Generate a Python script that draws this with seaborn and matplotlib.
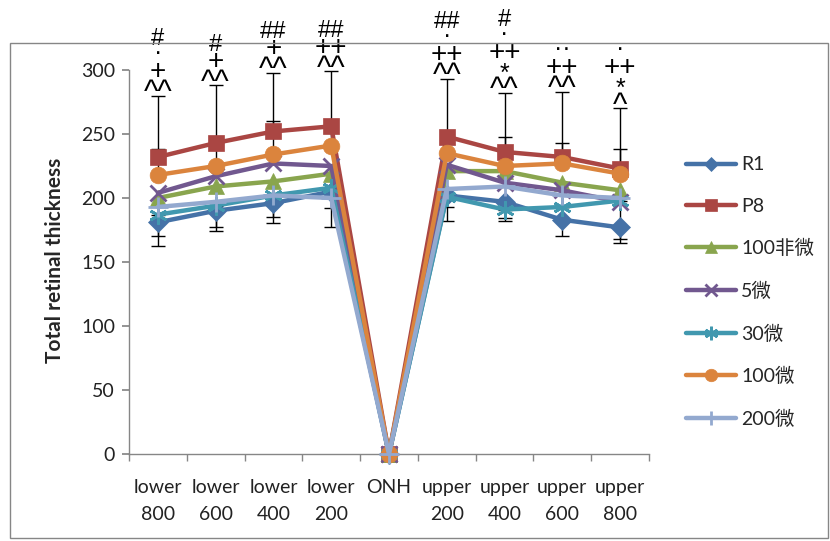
import matplotlib
matplotlib.use("Agg")
import matplotlib.pyplot as plt
import matplotlib.patches as patches
import numpy as np
import pandas as pd
import seaborn as sns

# categories along the retina
labels = ["lower\n800", "lower\n600", "lower\n400", "lower\n200", "ONH",
          "upper\n200", "upper\n400", "upper\n600", "upper\n800"]

# mean thickness per group
r1 = [181, 190, 196, 205, 0, 202, 197, 183, 177]
p8 = [232, 243, 252, 256, 0, 248, 236, 232, 223]
g100_non = [200, 209, 213, 219, 0, 221, 221, 212, 206]
g5 = [204, 217, 227, 225, 0, 226, 212, 206, 197]
g30 = [187, 194, 202, 208, 0, 201, 191, 193, 198]
g100 = [218, 225, 234, 241, 0, 235, 225, 227, 219]
g200 = [193, 197, 202, 200, 0, 207, 209, 202, 200]

# error bars (one sided)
p8_err_up = [48, 45, 46, 43, 0, 45, 46, 51, 47]
g100_err_up = [20, 18, 26, 15, 0, 14, 23, 16, 19]
r1_err_down = [18.5, 16, 15.5, 28, 0, 20, 15, 13, 12]
g30_err_down = [17, 17, 17, 16, 0, 8, 7, 0, 30]

# significance marks above each category (top line first)
marks = [["#", "·", "+", "^^"],
         ["#", "+", "^^"],
         ["##", "+", "^^"],
         ["##", "++", "^^"],
         [],
         ["##", "·", "++", "^^"],
         ["#", "·", "++", "*", "^^"],
         ["··", "++", "^^"],
         ["·", "++", "*", "^"]]

series = {"R1": r1, "P8": p8, "100非微": g100_non, "5微": g5,
          "30微": g30, "100微": g100, "200微": g200}
colors = ["#4572A7", "#AA4643", "#89A54E", "#71588F", "#4198AF", "#DB843D", "#93A9CF"]
markers = ["D", "s", "^", "x", (6, 2, 0), "o", "+"]
msizes = [10, 12, 11, 12, 13, 12, 14]

# font size and ink centre (in em above baseline) for each mark glyph
glyph_style = {"#": (17, 0.36), "+": (20, 0.35), "^": (22, 0.50),
               "*": (18, 0.57), "·": (18, 0.29)}

sns.set_theme(style="white")
plt.rcParams["font.family"] = ["Lato", "Noto Sans CJK SC", "DejaVu Sans"]

fig = plt.figure(figsize=(8.3, 5.41), dpi=100)
ax = fig.add_axes([129 / 830, 87 / 541, 520 / 830, 384 / 541])

x = np.arange(len(labels))

# error bars behind the lines
err_kw = dict(fmt="none", ecolor="black", elinewidth=1, capsize=5, capthick=1, zorder=1)
ax.errorbar(x, p8, yerr=[np.zeros(9), p8_err_up], **err_kw)
ax.errorbar(x, g100, yerr=[np.zeros(9), g100_err_up], **err_kw)
ax.errorbar(x, r1, yerr=[r1_err_down, np.zeros(9)], **err_kw)
ax.errorbar(x, g30, yerr=[g30_err_down, np.zeros(9)], **err_kw)

for i, (name, vals) in enumerate(series.items()):
    df = pd.DataFrame({"x": x, "y": vals})
    thin = markers[i] in ("x", "+") or isinstance(markers[i], tuple)
    sns.lineplot(data=df, x="x", y="y", ax=ax, color=colors[i], lw=3.2,
                 marker=markers[i], markersize=msizes[i], markeredgecolor=colors[i],
                 markeredgewidth=2 if thin else 0.5,
                 label=name, clip_on=False, zorder=2 + i)

# annotation stacks above the top error cap, one line at a time
px = 0.72  # points per pixel at 100 dpi
tops = np.array(p8) + np.array(p8_err_up)
for i, m in enumerate(marks):
    for k, line in enumerate(reversed(m)):
        size, ink = glyph_style[line[0]]
        centre = 10 + 16.5 * k                    # pixels above the cap
        base = centre * px - ink * size            # baseline offset in points
        ax.annotate(line, xy=(x[i], tops[i]), xytext=(0, base),
                    textcoords="offset points", ha="center", va="baseline",
                    fontsize=size, family="Liberation Sans", color="black",
                    annotation_clip=False, zorder=20)

ax.set_xlim(-0.5, 8.5)
ax.set_ylim(0, 300)
ax.set_yticks(range(0, 301, 50))
ax.set_xticks(x)
ax.set_xticklabels(labels, fontsize=14, color="#222222", linespacing=1.7)
ax.set_xticks(np.arange(-0.5, 9, 1), minor=True)
ax.tick_params(axis="x", which="major", length=0, pad=18)
ax.tick_params(axis="x", which="minor", length=5, color="#868686", direction="out", bottom=True)
ax.tick_params(axis="y", length=5, color="#868686", direction="out", left=True,
               labelsize=14, labelcolor="#222222", pad=5)
ax.set_xlabel("")
ax.set_ylabel("")
for side in ["top", "right"]:
    ax.spines[side].set_visible(False)
for side in ["left", "bottom"]:
    ax.spines[side].set_color("#868686")
    ax.spines[side].set_linewidth(1)

fig.text(55 / 830, 1 - 260 / 541, "Total retinal thickness", rotation=90,
         ha="center", va="center", fontsize=15, fontweight="bold")

handles, names = ax.get_legend_handles_labels()
ax.legend(handles, names, loc="center left", bbox_to_anchor=(676 / 830, 1 - 292 / 541),
          bbox_transform=fig.transFigure, frameon=False, fontsize=14,
          handlelength=2.6, labelspacing=1.25, markerscale=0.75, borderpad=0,
          handletextpad=0.25)

# chart area border
fig.patches.append(patches.Rectangle((10 / 830, 3 / 541), 818 / 830, 495 / 541,
                                     transform=fig.transFigure, fill=False,
                                     edgecolor="#868686", lw=1, zorder=0))

fig.savefig("out.png", dpi=100)
